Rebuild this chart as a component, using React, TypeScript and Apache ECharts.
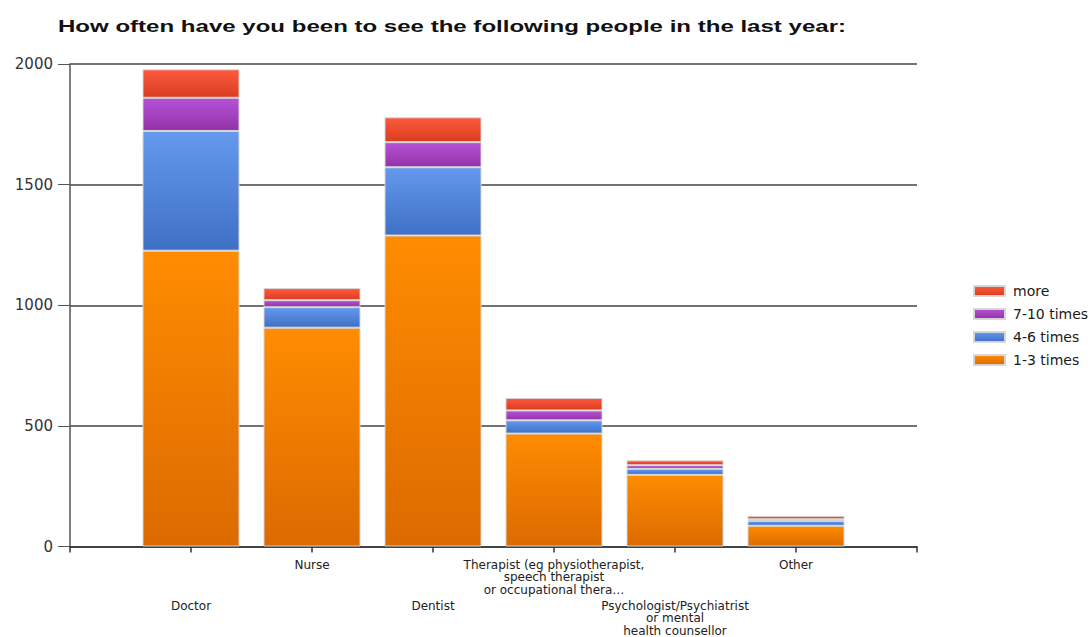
import React, { useEffect, useRef } from "react";
import * as echarts from "echarts";

const categories = [
  "",
  "Doctor",
  "Nurse",
  "Dentist",
  "Therapist (eg physiotherapist,\nspeech therapist\nor occupational thera…",
  "Psychologist/Psychiatrist\nor mental\nhealth counsellor",
  "Other",
  "",
];
const seriesNames = ["1-3 times", "4-6 times", "7-10 times", "more"];
const times1to3 = [null, 1226, 907, 1289, 468, 297, 86, null];
const times4to6 = [null, 496, 85, 283, 55, 25, 20, null];
const times7to10 = [null, 138, 29, 104, 41, 15, 7, null];
const timesMore = [null, 118, 50, 103, 52, 20, 14, null];
const yTicks = { min: 0, max: 2000, interval: 500 };
const titleText = "How often have you been to see the following people in the last year:";

const grad = (top: string, bottom: string) =>
  new echarts.graphic.LinearGradient(0, 0, 0, 1, [
    { offset: 0, color: top },
    { offset: 1, color: bottom },
  ]);

export default function App() {
  const ref = useRef<HTMLDivElement>(null);
  useEffect(() => {
    if (!ref.current) return;
    const chart = echarts.init(ref.current, undefined, { renderer: "svg" });
    const font = "'DejaVu Sans', Verdana, sans-serif";
    const colors = [
      grad("#ff8c00", "#dc6a00"),
      grad("#6499ee", "#3e70c6"),
      grad("#b552d6", "#9333a8"),
      grad("#fc5a3c", "#da3d20"),
    ];
    const datas = [times1to3, times4to6, times7to10, timesMore];
    chart.setOption({
      animation: false,
      textStyle: { fontFamily: font },
      graphic: [
        {
          type: "text",
          x: 58,
          y: 17,
          scaleX: 1.415,
          style: {
            text: titleText,
            font: "bold 17px Arial, 'Liberation Sans', sans-serif",
            fill: "#111",
          },
        },
      ],
      legend: {
        orient: "vertical",
        left: 968,
        top: 279,
        itemWidth: 31,
        itemHeight: 10,
        itemGap: 9,
        icon: "rect",
        data: ["more", "7-10 times", "4-6 times", "1-3 times"],
        textStyle: { fontSize: 14, color: "#1a1a1a", fontFamily: font, padding: [0, 0, 0, 3] },
      },
      grid: { left: 70, right: 174, top: 64, bottom: 90 },
      xAxis: {
        type: "category",
        data: categories,
        boundaryGap: false,
        axisLine: { lineStyle: { color: "#333", width: 1.5 } },
        axisTick: { show: true, length: 6, interval: 0, lineStyle: { color: "#333", width: 1.5 } },
        axisLabel: {
          interval: 0,
          margin: 12,
          color: "#222",
          fontSize: 12,
          fontFamily: font,
          formatter: (val: string, idx: number) => {
            if (!val) return "";
            const lines = val.split("\n").map((l) => `{a|${l}}`).join("\n");
            return idx % 2 === 1 ? `{s| }\n${lines}` : lines;
          },
          rich: {
            a: { fontSize: 12, lineHeight: 12.6, color: "#222", fontFamily: font },
            s: { fontSize: 12, lineHeight: 41 },
          },
        },
      },
      yAxis: {
        type: "value",
        ...yTicks,
        axisLine: { show: true, lineStyle: { color: "#555", width: 1.5 } },
        axisTick: { show: true, length: 12, lineStyle: { color: "#555" } },
        axisLabel: {
          fontSize: 15,
          color: "#333",
          margin: 17,
          fontFamily: font,
          formatter: (v: number) => String(v),
        },
        splitLine: { lineStyle: { color: "#444", width: 1.5 } },
      },
      series: seriesNames.map((name, i) => ({
        name,
        type: "bar",
        stack: "total",
        barWidth: 97,
        data: datas[i],
        itemStyle: {
          color: colors[i],
          borderColor: "rgba(215,215,215,0.95)",
          borderWidth: 1,
        },
      })),
    });
    return () => chart.dispose();
  }, []);
  return (
    <div
      ref={ref}
      style={{ position: "fixed", left: 0, top: 0, width: 1091, height: 637, background: "#fff" }}
    />
  );
}
